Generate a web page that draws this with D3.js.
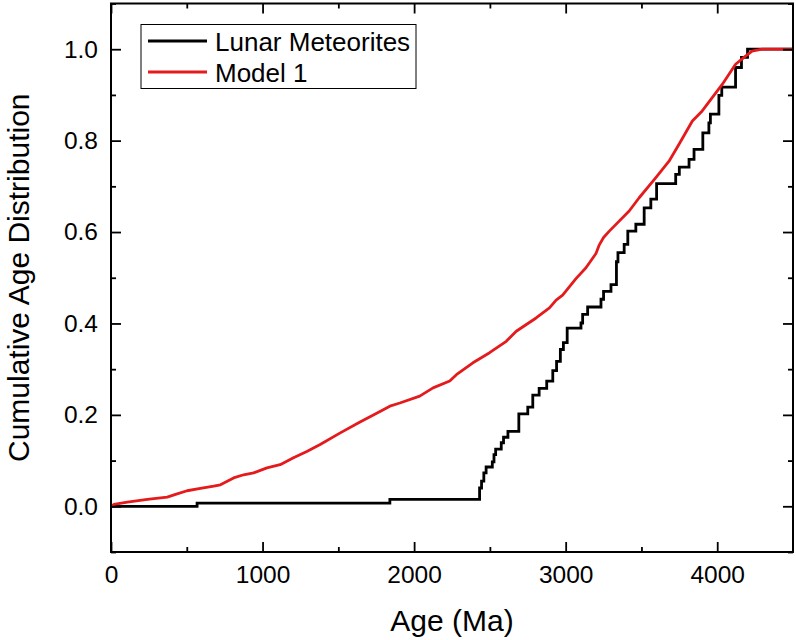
<!DOCTYPE html>
<html><head><meta charset="utf-8">
<script src="https://cdn.jsdelivr.net/npm/d3@7"></script>
<style>body{margin:0;background:#fff}svg{display:block}text{font-family:"Liberation Sans",Arial,sans-serif}</style>
</head><body>
<svg id="c" width="796" height="640"></svg>
<script>
// Lunar meteorites: step positions (age in Ma) and cumulative level after each step
const meteoriteAges = [0, 568, 1840, 2432, 2445, 2460, 2475, 2516, 2527, 2538, 2575, 2590, 2619, 2691, 2750, 2783, 2825, 2875, 2915, 2940, 2965, 2985, 3010, 3101, 3112, 3145, 3233, 3250, 3299, 3335, 3345, 3386, 3410, 3463, 3518, 3562, 3600, 3726, 3750, 3814, 3847, 3905, 3945, 3955, 4011, 4030, 4121, 4160, 4200, 4500];
const meteoriteCdf  = [0, 0.007, 0.015, 0.04, 0.055, 0.073, 0.086, 0.097, 0.113, 0.125, 0.139, 0.151, 0.164, 0.202, 0.217, 0.243, 0.258, 0.274, 0.297, 0.317, 0.343, 0.358, 0.39, 0.401, 0.42, 0.436, 0.453, 0.47, 0.485, 0.535, 0.555, 0.573, 0.602, 0.617, 0.653, 0.672, 0.706, 0.726, 0.742, 0.759, 0.781, 0.817, 0.839, 0.858, 0.899, 0.917, 0.96, 0.982, 1.0, 1.0];
// Model 1
const modelAges = [0, 20, 108, 240, 371, 426, 502, 590, 678, 722, 809, 875, 941, 1029, 1116, 1204, 1292, 1380, 1510, 1640, 1750, 1840, 1906, 2037, 2125, 2235, 2279, 2388, 2498, 2608, 2674, 2805, 2893, 2937, 2980, 3068, 3134, 3200, 3222, 3250, 3288, 3419, 3485, 3595, 3682, 3748, 3836, 3901, 3967, 4033, 4121, 4187, 4230, 4296, 4500];
const modelCdf  = [0, 0.004, 0.009, 0.015, 0.02, 0.026, 0.034, 0.039, 0.044, 0.047, 0.062, 0.069, 0.073, 0.084, 0.091, 0.106, 0.12, 0.135, 0.16, 0.184, 0.203, 0.219, 0.226, 0.241, 0.259, 0.274, 0.288, 0.314, 0.336, 0.361, 0.383, 0.412, 0.434, 0.451, 0.462, 0.498, 0.522, 0.553, 0.572, 0.588, 0.602, 0.646, 0.675, 0.719, 0.755, 0.792, 0.843, 0.865, 0.894, 0.923, 0.967, 0.985, 0.996, 1.0, 1.0];
const xTicks = [0, 1000, 2000, 3000, 4000];
const yTicks = [0.0, 0.2, 0.4, 0.6, 0.8, 1.0];
const seriesNames = ["Lunar Meteorites", "Model 1"];
const seriesColors = ["#000000", "#e41a1c"];

const svg = d3.select("#c");
const L = 111, R = 793, T = 3.5, B = 552;
const x = d3.scaleLinear().domain([0, 4500]).range([L, R]);
const y = d3.scaleLinear().domain([-0.1, 1.1]).range([B, T]);

const g = svg.append("g");
const met = meteoriteAges.map((a, i) => [a, meteoriteCdf[i]]);
const mod = modelAges.map((a, i) => [a, modelCdf[i]]);
g.append("path").datum(met).attr("fill", "none").attr("stroke", seriesColors[0]).attr("stroke-width", 2.8)
  .attr("d", d3.line().x(d => x(d[0])).y(d => y(d[1])).curve(d3.curveStepAfter));
g.append("path").datum(mod).attr("fill", "none").attr("stroke", seriesColors[1]).attr("stroke-width", 2.8)
  .attr("stroke-linejoin", "round")
  .attr("d", d3.line().x(d => x(d[0])).y(d => y(d[1])));

const minorX = d3.range(500, 4500, 1000);
const minorY = d3.range(-0.1, 1.11, 0.2).map(v => +v.toFixed(2));
function axisStyle(sel){ sel.select(".domain").remove(); sel.selectAll("line").attr("stroke","#000").attr("stroke-width",1.8); }
svg.append("g").attr("transform", `translate(0,${B})`)
  .call(d3.axisBottom(x).tickValues(xTicks).tickSize(-10).tickPadding(14).tickFormat(d3.format("d")))
  .call(axisStyle).selectAll("text").attr("font-size", 24.5).attr("fill","#000");
svg.append("g").attr("transform", `translate(0,${B})`)
  .call(d3.axisBottom(x).tickValues(minorX).tickSize(-5).tickFormat("")).call(axisStyle);
svg.append("g").attr("transform", `translate(0,${T})`)
  .call(d3.axisTop(x).tickValues(xTicks).tickSize(-10).tickFormat("")).call(axisStyle);
svg.append("g").attr("transform", `translate(0,${T})`)
  .call(d3.axisTop(x).tickValues(minorX).tickSize(-5).tickFormat("")).call(axisStyle);
svg.append("g").attr("transform", `translate(${L},0)`)
  .call(d3.axisLeft(y).tickValues(yTicks).tickSize(-10).tickPadding(13).tickFormat(d3.format(".1f")))
  .call(axisStyle).selectAll("text").attr("font-size", 24.5).attr("fill","#000");
svg.append("g").attr("transform", `translate(${L},0)`)
  .call(d3.axisLeft(y).tickValues(minorY).tickSize(-5).tickFormat("")).call(axisStyle);
svg.append("g").attr("transform", `translate(${R},0)`)
  .call(d3.axisRight(y).tickValues(yTicks).tickSize(-10).tickFormat("")).call(axisStyle);
svg.append("g").attr("transform", `translate(${R},0)`)
  .call(d3.axisRight(y).tickValues(minorY).tickSize(-5).tickFormat("")).call(axisStyle);
svg.append("rect").attr("x", L).attr("y", T).attr("width", R - L).attr("height", B - T)
  .attr("fill", "none").attr("stroke", "#000").attr("stroke-width", 2);

svg.append("text").attr("x", (L + R) / 2).attr("y", 631).attr("text-anchor", "middle")
  .attr("font-size", 30).text("Age (Ma)");
svg.append("text").attr("transform", `translate(29,${(T + B) / 2}) rotate(-90)`).attr("text-anchor", "middle")
  .attr("font-size", 30).text("Cumulative Age Distribution");

const lg = svg.append("g");
lg.append("rect").attr("x", 141).attr("y", 24.5).attr("width", 275).attr("height", 64)
  .attr("fill", "#fff").attr("stroke", "#000").attr("stroke-width", 1);
seriesNames.forEach((n, i) => {
  const yy = 41 + i * 31;
  lg.append("line").attr("x1", 148).attr("x2", 207).attr("y1", yy).attr("y2", yy)
    .attr("stroke", seriesColors[i]).attr("stroke-width", 2.8);
  lg.append("text").attr("x", 215).attr("y", yy + 9.5).attr("font-size", 26).text(n);
});
</script>
</body></html>
